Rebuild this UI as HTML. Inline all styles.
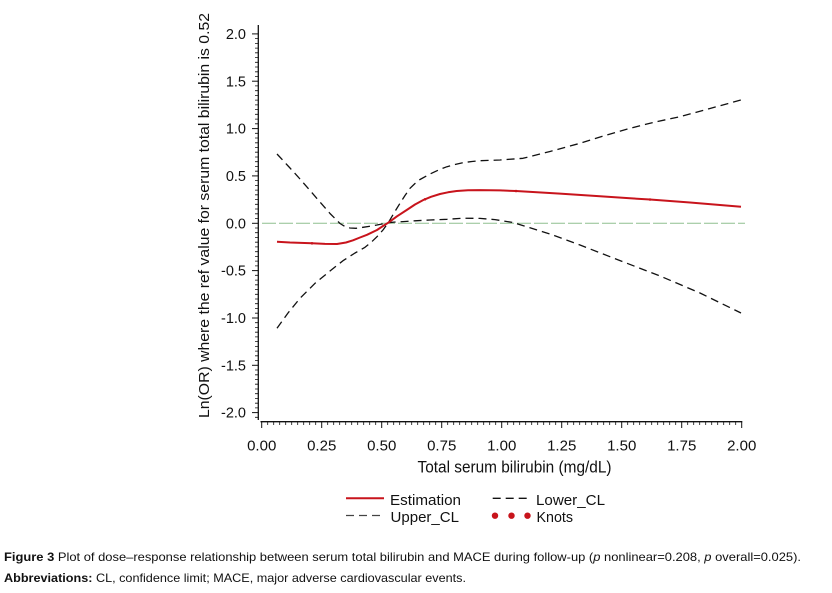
<!DOCTYPE html>
<html>
<head>
<meta charset="utf-8">
<style>
  html, body { margin:0; padding:0; background:#fff; }
  body { width:832px; height:593px; overflow:hidden; }
  svg { display:block; }
  text { font-family: "Liberation Sans", Arial, sans-serif; fill:#111; }
</style>
</head>
<body>
<svg width="832" height="593" viewBox="0 0 832 593" xmlns="http://www.w3.org/2000/svg">
  <!-- Y axis -->
  <line x1="258.3" y1="25" x2="258.3" y2="420" stroke="#111" stroke-width="1.3"/>
  <g stroke="#111" stroke-width="1">
    <line x1="252" y1="33.9" x2="258.3" y2="33.9"/>
    <line x1="252" y1="81.2" x2="258.3" y2="81.2"/>
    <line x1="252" y1="128.6" x2="258.3" y2="128.6"/>
    <line x1="252" y1="175.9" x2="258.3" y2="175.9"/>
    <line x1="252" y1="223.3" x2="258.3" y2="223.3"/>
    <line x1="252" y1="270.6" x2="258.3" y2="270.6"/>
    <line x1="252" y1="318" x2="258.3" y2="318"/>
    <line x1="252" y1="365.3" x2="258.3" y2="365.3"/>
    <line x1="252" y1="412.6" x2="258.3" y2="412.6"/>
  </g>
  <path stroke="#111" stroke-width="0.8" fill="none" d="
  M255,38.6H258.3 M255,43.4H258.3 M255,48.1H258.3 M255,52.8H258.3 M255,57.6H258.3 M255,62.3H258.3 M255,67H258.3 M255,71.8H258.3 M255,76.5H258.3
  M255,85.9H258.3 M255,90.7H258.3 M255,95.4H258.3 M255,100.1H258.3 M255,104.9H258.3 M255,109.6H258.3 M255,114.3H258.3 M255,119.1H258.3 M255,123.8H258.3
  M255,133.3H258.3 M255,138H258.3 M255,142.8H258.3 M255,147.5H258.3 M255,152.2H258.3 M255,157H258.3 M255,161.7H258.3 M255,166.4H258.3 M255,171.2H258.3
  M255,180.6H258.3 M255,185.4H258.3 M255,190.1H258.3 M255,194.8H258.3 M255,199.6H258.3 M255,204.3H258.3 M255,209H258.3 M255,213.8H258.3 M255,218.5H258.3
  M255,228H258.3 M255,232.7H258.3 M255,237.5H258.3 M255,242.2H258.3 M255,246.9H258.3 M255,251.7H258.3 M255,256.4H258.3 M255,261.1H258.3 M255,265.9H258.3
  M255,275.3H258.3 M255,280.1H258.3 M255,284.8H258.3 M255,289.5H258.3 M255,294.3H258.3 M255,299H258.3 M255,303.7H258.3 M255,308.5H258.3 M255,313.2H258.3
  M255,322.7H258.3 M255,327.4H258.3 M255,332.2H258.3 M255,336.9H258.3 M255,341.6H258.3 M255,346.4H258.3 M255,351.1H258.3 M255,355.8H258.3 M255,360.6H258.3
  M255,370H258.3 M255,374.8H258.3 M255,379.5H258.3 M255,384.2H258.3 M255,389H258.3 M255,393.7H258.3 M255,398.4H258.3 M255,403.2H258.3 M255,407.9H258.3
  M255,417.3H258.3"/>
  <!-- Y tick labels -->
  <g font-size="14.5" text-anchor="end">
    <text x="246" y="39">2.0</text>
    <text x="246" y="86.3">1.5</text>
    <text x="246" y="133.7">1.0</text>
    <text x="246" y="181">0.5</text>
    <text x="246" y="228.4">0.0</text>
    <text x="246" y="275.7">-0.5</text>
    <text x="246" y="323.1">-1.0</text>
    <text x="246" y="370.4">-1.5</text>
    <text x="246" y="417.7">-2.0</text>
  </g>
  <!-- Y title -->
  <text transform="translate(209,215.5) rotate(-90)" font-size="15" text-anchor="middle" textLength="405" lengthAdjust="spacingAndGlyphs">Ln(OR) where the ref value for serum total bilirubin is 0.52</text>

  <!-- X axis -->
  <line x1="260.5" y1="421.7" x2="742.3" y2="421.7" stroke="#111" stroke-width="1.3"/>
  <g stroke="#111" stroke-width="1">
    <line x1="261.7" y1="421.7" x2="261.7" y2="428"/>
    <line x1="321.7" y1="421.7" x2="321.7" y2="428"/>
    <line x1="381.7" y1="421.7" x2="381.7" y2="428"/>
    <line x1="441.7" y1="421.7" x2="441.7" y2="428"/>
    <line x1="501.7" y1="421.7" x2="501.7" y2="428"/>
    <line x1="561.7" y1="421.7" x2="561.7" y2="428"/>
    <line x1="621.7" y1="421.7" x2="621.7" y2="428"/>
    <line x1="681.7" y1="421.7" x2="681.7" y2="428"/>
    <line x1="741.7" y1="421.7" x2="741.7" y2="428"/>
  </g>
  <path stroke="#111" stroke-width="0.8" fill="none" d="
  M267.7,421.7v3.3 M273.7,421.7v3.3 M279.7,421.7v3.3 M285.7,421.7v3.3 M291.7,421.7v3.3 M297.7,421.7v3.3 M303.7,421.7v3.3 M309.7,421.7v3.3 M315.7,421.7v3.3
  M327.7,421.7v3.3 M333.7,421.7v3.3 M339.7,421.7v3.3 M345.7,421.7v3.3 M351.7,421.7v3.3 M357.7,421.7v3.3 M363.7,421.7v3.3 M369.7,421.7v3.3 M375.7,421.7v3.3
  M387.7,421.7v3.3 M393.7,421.7v3.3 M399.7,421.7v3.3 M405.7,421.7v3.3 M411.7,421.7v3.3 M417.7,421.7v3.3 M423.7,421.7v3.3 M429.7,421.7v3.3 M435.7,421.7v3.3
  M447.7,421.7v3.3 M453.7,421.7v3.3 M459.7,421.7v3.3 M465.7,421.7v3.3 M471.7,421.7v3.3 M477.7,421.7v3.3 M483.7,421.7v3.3 M489.7,421.7v3.3 M495.7,421.7v3.3
  M507.7,421.7v3.3 M513.7,421.7v3.3 M519.7,421.7v3.3 M525.7,421.7v3.3 M531.7,421.7v3.3 M537.7,421.7v3.3 M543.7,421.7v3.3 M549.7,421.7v3.3 M555.7,421.7v3.3
  M567.7,421.7v3.3 M573.7,421.7v3.3 M579.7,421.7v3.3 M585.7,421.7v3.3 M591.7,421.7v3.3 M597.7,421.7v3.3 M603.7,421.7v3.3 M609.7,421.7v3.3 M615.7,421.7v3.3
  M627.7,421.7v3.3 M633.7,421.7v3.3 M639.7,421.7v3.3 M645.7,421.7v3.3 M651.7,421.7v3.3 M657.7,421.7v3.3 M663.7,421.7v3.3 M669.7,421.7v3.3 M675.7,421.7v3.3
  M687.7,421.7v3.3 M693.7,421.7v3.3 M699.7,421.7v3.3 M705.7,421.7v3.3 M711.7,421.7v3.3 M717.7,421.7v3.3 M723.7,421.7v3.3 M729.7,421.7v3.3 M735.7,421.7v3.3"/>
  <!-- X tick labels -->
  <g font-size="15" text-anchor="middle">
    <text x="261.7" y="450.5">0.00</text>
    <text x="321.7" y="450.5">0.25</text>
    <text x="381.7" y="450.5">0.50</text>
    <text x="441.7" y="450.5">0.75</text>
    <text x="501.7" y="450.5">1.00</text>
    <text x="561.7" y="450.5">1.25</text>
    <text x="621.7" y="450.5">1.50</text>
    <text x="681.7" y="450.5">1.75</text>
    <text x="741.7" y="450.5">2.00</text>
  </g>
  <!-- X title -->
  <text x="514.5" y="472.5" font-size="16.5" text-anchor="middle" textLength="194" lengthAdjust="spacingAndGlyphs">Total serum bilirubin (mg/dL)</text>

  <!-- Reference line -->
  <line x1="262" y1="223.3" x2="745" y2="223.3" stroke="#8fbf8f" stroke-width="1" stroke-dasharray="14 3"/>

  <!-- Curve A -->
  <polyline fill="none" stroke="#111" stroke-width="1.3" stroke-dasharray="8 5" stroke-linejoin="round"
    points="277,154 290,168 300,179 310,190.5 320,202 330,213.5 336,219.5 340,223.5 345,226.5 350,228 356,228.3 363,227.3 370,226.2 377,225 383,223.8 388.3,222.7 396,222 403,221.6 415,220.8 430,220 447,219.3 463,218.2 480,218.4 495,219.6 513,222.5 530,227.8 550,234 580,245 621,261 660,276 700,293 741,313"/>
  <!-- Curve B -->
  <polyline fill="none" stroke="#111" stroke-width="1.3" stroke-dasharray="8 5" stroke-linejoin="round"
    points="277,328.3 288,313 300,298.3 315,283.3 330,271 343,260.7 355,253 365,247.3 371,242.5 377,236.7 383,230 388.3,222.7 394,213 400,203.3 405,195.5 410,188.3 415,183.5 420,179.5 430,174 440,169.3 447,166.7 455,164.5 463,162.7 472,161.5 480,160.7 500,160 523,158.3 550,151.5 580,143.3 605,135.5 630,128.3 655,122 680,116.7 710,108.5 741,100"/>
  <!-- Estimation -->
  <polyline fill="none" stroke="#c8141c" stroke-width="2" stroke-linejoin="round"
    points="277,241.7 290,242.5 312,243.3 325,243.9 337,244 346,242.5 353,240.3 360,237.5 367,234.8 377,230 383,226 388.3,222.7 397,216.3 406.7,210 415,204.5 423.3,200 431,196.8 440,194 448,192.3 456.7,191 468,190.3 480,190.1 500,190.4 516,191 560,193.6 600,196.2 630,198.3 650,199.5 690,202.5 741,206.7"/>
  <g fill="#c8141c">
    <circle cx="312" cy="243.3" r="1.3"/>
    <circle cx="425" cy="199.3" r="1.3"/>
    <circle cx="516" cy="191" r="1.3"/>
    <circle cx="650" cy="199.5" r="1.3"/>
  </g>

  <!-- Legend -->
  <line x1="346" y1="498.3" x2="384" y2="498.3" stroke="#c8141c" stroke-width="2"/>
  <text x="390" y="505" font-size="15" textLength="71" lengthAdjust="spacingAndGlyphs">Estimation</text>
  <line x1="492.7" y1="498.3" x2="527" y2="498.3" stroke="#111" stroke-width="1.3" stroke-dasharray="8 5"/>
  <text x="536" y="505" font-size="15" textLength="69" lengthAdjust="spacingAndGlyphs">Lower_CL</text>
  <line x1="346" y1="515.5" x2="383" y2="515.5" stroke="#444" stroke-width="1.3" stroke-dasharray="8 5"/>
  <text x="390.5" y="522" font-size="15" textLength="68.5" lengthAdjust="spacingAndGlyphs">Upper_CL</text>
  <g fill="#c8141c">
    <circle cx="495" cy="515.7" r="3.2"/>
    <circle cx="511.5" cy="515.7" r="3.2"/>
    <circle cx="527.5" cy="515.7" r="3.2"/>
  </g>
  <text x="536.5" y="522" font-size="15" textLength="36.5" lengthAdjust="spacingAndGlyphs">Knots</text>

  <!-- Caption -->
  <text x="4" y="561" font-size="12" textLength="797" lengthAdjust="spacingAndGlyphs" style="font-family:'Liberation Sans Narrow','Liberation Sans',sans-serif"><tspan font-weight="bold">Figure 3</tspan> Plot of dose–response relationship between serum total bilirubin and MACE during follow-up (<tspan font-style="italic">p</tspan>  nonlinear=0.208, <tspan font-style="italic">p</tspan>  overall=0.025).</text>
  <text x="4" y="582" font-size="12" textLength="462" lengthAdjust="spacingAndGlyphs" style="font-family:'Liberation Sans Narrow','Liberation Sans',sans-serif"><tspan font-weight="bold">Abbreviations:</tspan> CL, confidence limit; MACE, major adverse cardiovascular events.</text>
</svg>
</body>
</html>
